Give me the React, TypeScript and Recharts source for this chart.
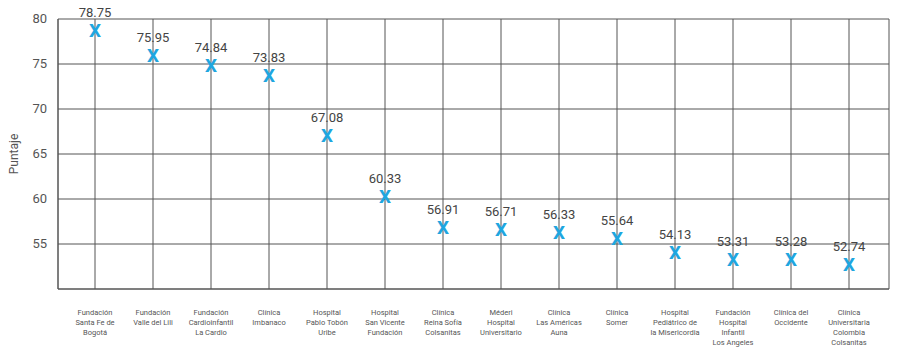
import {
  CartesianGrid,
  ComposedChart,
  Scatter,
  XAxis,
  YAxis,
} from "recharts";

const hospitals = [
  "Fundación\nSanta Fe de\nBogotá",
  "Fundación\nValle del Lili",
  "Fundación\nCardioinfantil\nLa Cardio",
  "Clínica\nImbanaco",
  "Hospital\nPablo Tobón\nUribe",
  "Hospital\nSan Vicente\nFundación",
  "Clínica\nReina Sofía\nColsanitas",
  "Méderi\nHospital\nUniversitario",
  "Clínica\nLas Américas\nAuna",
  "Clínica\nSomer",
  "Hospital\nPediátrico de\nla Misericordia",
  "Fundación\nHospital\nInfantil\nLos Angeles",
  "Clínica del\nOccidente",
  "Clínica\nUniversitaria\nColombia\nColsanitas",
];

const scores = [
  78.75, 75.95, 74.84, 73.83, 67.08, 60.33, 56.91, 56.71, 56.33, 55.64, 54.13,
  53.31, 53.28, 52.74,
];

const yTicks = [50, 55, 60, 65, 70, 75, 80];

const data = hospitals.map((name, i) => ({ name, score: scores[i] }));

const FONT = "Roboto, 'Noto Sans', sans-serif";
const GRID = "#555";

const HospitalTick = (props: any) => {
  const { x, payload } = props;
  const lines = String(payload.value).split("\n");
  return (
    <g>
      {lines.map((line: string, i: number) => (
        <text
          key={i}
          x={x}
          y={315 + i * 10}
          textAnchor="middle"
          fontSize={7.5}
          fontFamily={FONT}
          fill="#555"
        >
          {line}
        </text>
      ))}
    </g>
  );
};

const YTick = (props: any) => {
  const { x, y, payload } = props;
  if (payload.value === 50) return null;
  return (
    <text
      x={x}
      y={y + 4}
      textAnchor="end"
      fontSize={13}
      fontFamily={FONT}
      fill="#555"
    >
      {payload.value}
    </text>
  );
};

const Marker = (props: any) => {
  const { cx, cy, payload } = props;
  return (
    <g>
      <text
        x={cx}
        y={cy - 13}
        textAnchor="middle"
        fontSize={13}
        fontFamily={FONT}
        fill="#444"
      >
        {payload.score.toFixed(2)}
      </text>
      <text
        x={cx}
        y={cy + 7}
        textAnchor="middle"
        fontSize={19}
        fontWeight={700}
        fontFamily={FONT}
        fill="#1fa6df"
      >
        X
      </text>
    </g>
  );
};

export default function App() {
  return (
    <div style={{ position: "absolute", left: 0, top: 0, background: "#fff" }}>
      <ComposedChart
        width={900}
        height={358}
        data={data}
        margin={{ top: 19, right: 11, bottom: 0, left: 0 }}
      >
        <CartesianGrid stroke={GRID} strokeWidth={1} />
        <XAxis
          dataKey="name"
          type="category"
          interval={0}
          padding={{ left: 37, right: 40 }}
          tickLine={false}
          axisLine={{ stroke: GRID }}
          tick={<HospitalTick />}
          height={69}
        />
        <YAxis
          type="number"
          domain={[50, 80]}
          ticks={yTicks}
          width={58}
          tickLine={false}
          axisLine={{ stroke: GRID }}
          tick={<YTick />}
          tickMargin={5}
          label={{
            value: "Puntaje",
            angle: -90,
            position: "insideLeft",
            offset: 14,
            style: { fontSize: 12, fontFamily: FONT, fill: "#555", textAnchor: "middle" },
          }}
        />
        <Scatter
          dataKey="score"
          shape={<Marker />}
          isAnimationActive={false}
        />
      </ComposedChart>
    </div>
  );
}
